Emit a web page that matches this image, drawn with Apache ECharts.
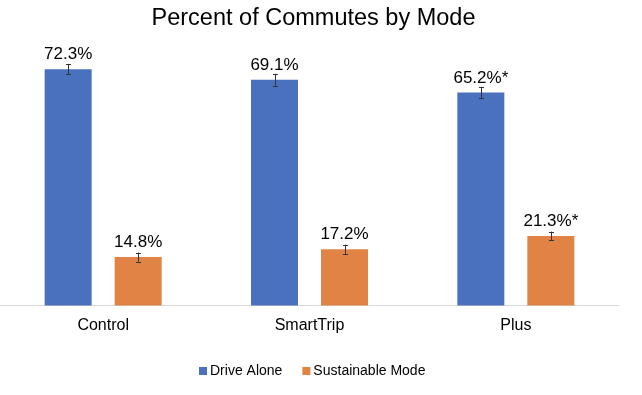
<!DOCTYPE html>
<html>
<head>
<meta charset="utf-8">
<script src="https://cdn.jsdelivr.net/npm/echarts@6/dist/echarts.min.js"></script>
<style>
html,body{margin:0;padding:0;background:#fff;}
#chart{width:642px;height:395px;}
</style>
</head>
<body>
<div id="chart"></div>
<script>
const categories = ['Control', 'SmartTrip', 'Plus'];
const driveAlone = [72.3, 69.1, 65.2];
const sustainable = [14.8, 17.2, 21.3];
const driveAloneErr = [1.6, 1.8, 1.7];
const sustainableErr = [1.4, 1.4, 1.3];
const driveAloneSig = ['', '', '*'];
const sustainableSig = ['', '', '*'];

const FONT = 'Liberation Sans, Arial, sans-serif';
const BAR_W = 47;
const GAP = 23;
const OFFSET = (BAR_W + GAP) / 2;

function errSeries(vals, errs, dir, name) {
  return {
    type: 'custom',
    name: name + ' err',
    silent: true,
    z: 5,
    data: vals.map((v, i) => [i, v, errs[i]]),
    renderItem: function (params, api) {
      const i = api.value(0), v = api.value(1), e = api.value(2);
      const hi = api.coord([i, v + e]);
      const lo = api.coord([i, v - e]);
      const x = Math.round(hi[0] + dir * OFFSET) + 0.5;
      const c = 2.5;
      const st = { stroke: '#333', lineWidth: 1 };
      return {
        type: 'group',
        children: [
          { type: 'line', shape: { x1: x, y1: hi[1], x2: x, y2: lo[1] }, style: st },
          { type: 'line', shape: { x1: x - c, y1: Math.round(hi[1]) + 0.5, x2: x + c, y2: Math.round(hi[1]) + 0.5 }, style: st },
          { type: 'line', shape: { x1: x - c, y1: Math.round(lo[1]) + 0.5, x2: x + c, y2: Math.round(lo[1]) + 0.5 }, style: st }
        ]
      };
    }
  };
}

const chart = echarts.init(document.getElementById('chart'), null, { renderer: 'canvas' });
chart.setOption({
  animation: false,
  backgroundColor: '#fff',
  title: {
    text: 'Percent of Commutes by Mode',
    left: 308.5,
    textAlign: 'center',
    top: 2,
    textStyle: { fontFamily: FONT, fontSize: 23.5, fontWeight: 'normal', color: '#000' }
  },
  legend: {
    data: ['Drive Alone', 'Sustainable Mode'],
    left: 194,
    top: 359,
    itemWidth: 8,
    itemHeight: 8,
    itemGap: 20,
    icon: 'rect',
    textStyle: { fontFamily: FONT, fontSize: 14, color: '#000', padding: [0, 0, 0, -2] }
  },
  grid: { left: 0, right: 23, top: 44, bottom: 89.5, containLabel: false },
  xAxis: {
    type: 'category',
    data: categories,
    axisLine: { show: true, lineStyle: { color: '#d9d9d9', width: 1 } },
    axisTick: { show: false },
    axisLabel: { fontFamily: FONT, fontSize: 16, color: '#000', margin: 12 }
  },
  yAxis: {
    type: 'value',
    min: 0,
    max: 80,
    show: false,
    splitLine: { show: false }
  },
  series: [
    {
      name: 'Drive Alone',
      type: 'bar',
      data: driveAlone,
      barWidth: BAR_W,
      barGap: (GAP / BAR_W * 100) + '%',
      itemStyle: { color: '#4a71be' },
      label: {
        show: true,
        position: 'top',
        distance: 6,
        fontFamily: FONT,
        fontSize: 17,
        color: '#000',
        formatter: p => p.value.toFixed(1) + '%' + driveAloneSig[p.dataIndex]
      }
    },
    {
      name: 'Sustainable Mode',
      type: 'bar',
      data: sustainable,
      barWidth: BAR_W,
      itemStyle: { color: '#e08344' },
      label: {
        show: true,
        position: 'top',
        distance: 6,
        fontFamily: FONT,
        fontSize: 17,
        color: '#000',
        formatter: p => p.value.toFixed(1) + '%' + sustainableSig[p.dataIndex]
      }
    },
    errSeries(driveAlone, driveAloneErr, -1, 'Drive Alone'),
    errSeries(sustainable, sustainableErr, 1, 'Sustainable Mode')
  ]
});
</script>
</body>
</html>
